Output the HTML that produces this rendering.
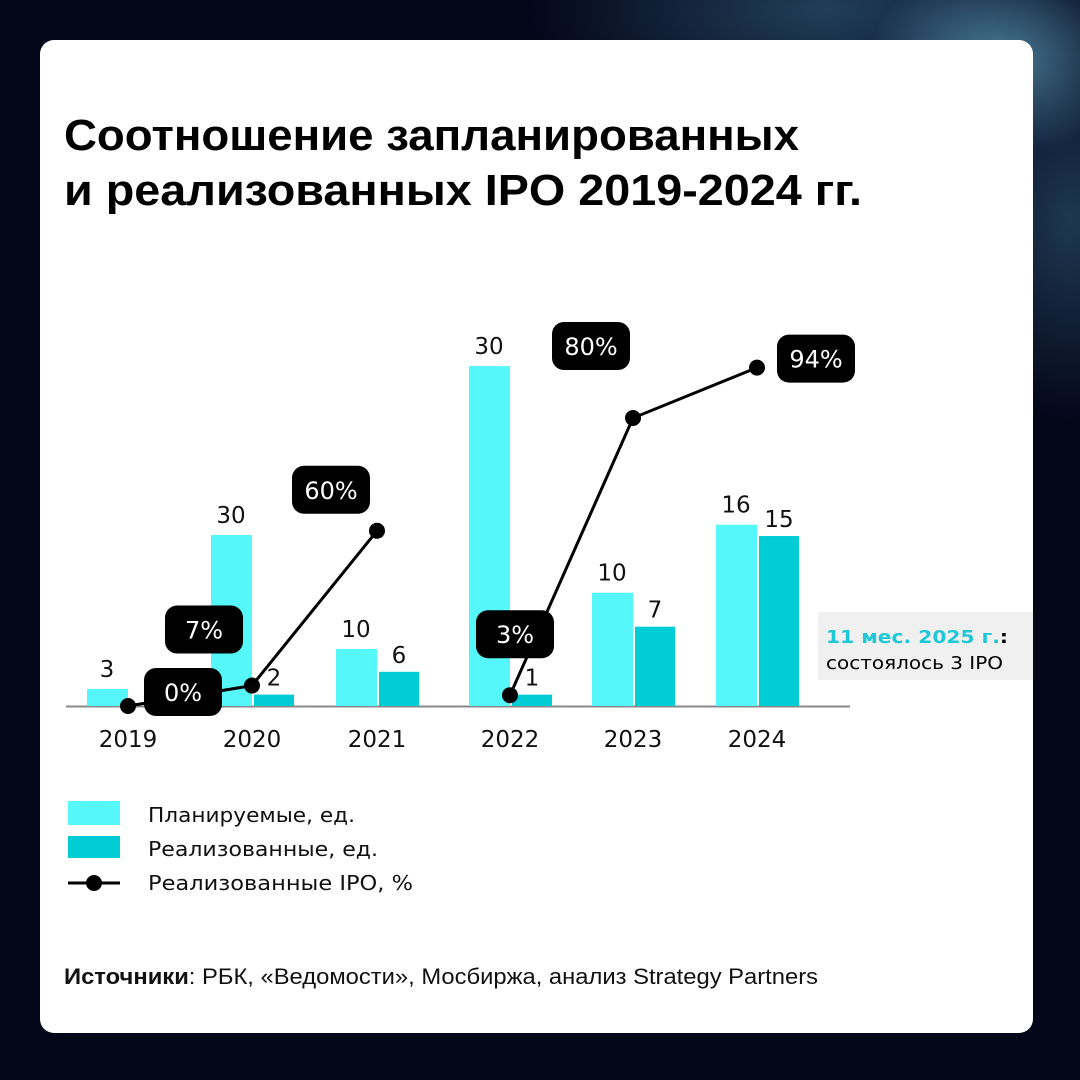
<!DOCTYPE html>
<html><head><meta charset="utf-8">
<style>
html,body{margin:0;padding:0;width:1080px;height:1080px;overflow:hidden;background:#04071a;}
#bg{position:absolute;left:0;top:0;width:1080px;height:1080px;
background:radial-gradient(ellipse 220px 160px at 1000px 60px,rgba(120,200,230,0.55),rgba(20,40,80,0.2) 60%,rgba(0,0,0,0) 100%),
radial-gradient(ellipse 300px 120px at 830px 10px,rgba(90,170,210,0.35),rgba(0,0,0,0) 100%),
radial-gradient(ellipse 120px 200px at 1070px 220px,rgba(90,170,210,0.3),rgba(0,0,0,0) 100%),#04071a;}
#card{position:absolute;left:40px;top:40px;width:993px;height:993px;background:#fff;border-radius:14px;}
svg{position:absolute;left:0;top:0;}
</style></head>
<body>
<div id="bg"></div>
<div id="card"></div>
<svg id="chart" width="1080" height="1080">
<text x="64" y="150" font-family="Liberation Sans, sans-serif" font-weight="bold" font-size="44" textLength="735" lengthAdjust="spacingAndGlyphs" fill="#000">Соотношение запланированных</text>
<text x="64" y="205" font-family="Liberation Sans, sans-serif" font-weight="bold" font-size="44" textLength="798" lengthAdjust="spacingAndGlyphs" fill="#000">и реализованных IPO 2019-2024 гг.</text>
<line x1="66" y1="706.5" x2="850" y2="706.5" stroke="#888" stroke-width="2"/>
<g id="bars"></g><g id="line"></g><g id="bubbles"></g>
<rect x="818" y="612" width="215" height="68" fill="#f0f0f0"/>
<text x="826" y="643" font-family="DejaVu Sans, sans-serif" font-weight="bold" font-size="18" textLength="182" lengthAdjust="spacingAndGlyphs" fill="#1ec8d6">11 мес. 2025 г.<tspan fill="#000">:</tspan></text>
<text x="826" y="669" font-family="DejaVu Sans, sans-serif" font-size="18" textLength="177" lengthAdjust="spacingAndGlyphs" fill="#000">состоялось 3 IPO</text>
<rect x="68" y="801" width="52" height="24" fill="#55f7fb"/>
<text x="148" y="822" font-family="DejaVu Sans, sans-serif" font-size="20" textLength="207" lengthAdjust="spacingAndGlyphs" fill="#111">Планируемые, ед.</text>
<rect x="68" y="836" width="52" height="22" fill="#00ccd6"/>
<text x="148" y="856" font-family="DejaVu Sans, sans-serif" font-size="20" textLength="230" lengthAdjust="spacingAndGlyphs" fill="#111">Реализованные, ед.</text>
<line x1="68" y1="883" x2="120" y2="883" stroke="#000" stroke-width="3"/>
<circle cx="94" cy="883" r="8" fill="#000"/>
<text x="148" y="890" font-family="DejaVu Sans, sans-serif" font-size="20" textLength="265" lengthAdjust="spacingAndGlyphs" fill="#111">Реализованные IPO, %</text>
<text x="64" y="984" font-family="Liberation Sans, sans-serif" font-size="22" textLength="754" lengthAdjust="spacingAndGlyphs" fill="#111"><tspan font-weight="bold">Источники</tspan>: РБК, «Ведомости», Мосбиржа, анализ Strategy Partners</text>
</svg>
<script>
const categories = ["2019","2020","2021","2022","2023","2024"];
const planned = [3,30,10,30,10,16];
const realized = [0,2,6,1,7,15];
const percent = [0,7,60,3,80,94];
const percentLabels = ["0%","7%","60%","3%","80%","94%"];
const scaleGroup = [0,0,0,1,1,1];

const NS="http://www.w3.org/2000/svg";
const baseY=706;
const barPx=[5.7,11.33];
const pctPx=[2.92,3.6];
const centers=[128,252,377,510,633,757];
function xC(i){return centers[i];}
function yBar(v,i){return baseY - v*barPx[scaleGroup[i]];}
function yPct(v,i){return baseY - v*pctPx[scaleGroup[i]];}
const bubbleOff=[[55,-14],[-48,-56],[-46,-41],[5,-61],[-42,-72],[59,-9]];
function mk(tag,attrs){const e=document.createElementNS(NS,tag);for(const k in attrs)e.setAttribute(k,attrs[k]);return e;}
const gb=document.getElementById('bars'),gl=document.getElementById('line'),gbb=document.getElementById('bubbles');
categories.forEach((c,i)=>{
  const cx=xC(i);
  const yp=yBar(planned[i],i);
  let r=mk('rect',{x:cx-41,y:yp,width:41,height:baseY-yp,fill:'#55f7fb'});
  
  
  gb.appendChild(r);
  let t=mk('text',{x:cx-21,y:yp-12,'text-anchor':'middle','font-family':'DejaVu Sans, sans-serif','font-size':'23',fill:'#111'});
  t.textContent=planned[i];
  
  
  gb.appendChild(t);
  if(realized[i]>0){
    const yr=yBar(realized[i],i);
    let r2=mk('rect',{x:cx+2,y:yr,width:40,height:baseY-yr,fill:'#00ccd6'});
    
    
    gb.appendChild(r2);
    let t2=mk('text',{x:cx+22,y:yr-9,'text-anchor':'middle','font-family':'DejaVu Sans, sans-serif','font-size':'23',fill:'#111'});
    t2.textContent=realized[i];
    
    
    gb.appendChild(t2);
  }
  let yl=mk('text',{x:cx,y:747,'text-anchor':'middle','font-family':'DejaVu Sans, sans-serif','font-size':'23',fill:'#111'});
  yl.textContent=c;
  
  
  gb.appendChild(yl);
});
[[0,1,2],[3,4,5]].forEach((seg,si)=>{
  const pts=seg.map(i=>xC(i)+','+yPct(percent[i],i)).join(' ');
  let pl=mk('polyline',{points:pts,fill:'none',stroke:'#000','stroke-width':3});
  
  
  gl.appendChild(pl);
});
categories.forEach((c,i)=>{
  const px=xC(i),py=yPct(percent[i],i);
  let d=mk('circle',{cx:px,cy:py,r:8,fill:'#000'});
  
  
  gl.appendChild(d);
  const bx=px+bubbleOff[i][0],by=py+bubbleOff[i][1];
  let b=mk('rect',{x:bx-39,y:by-24,width:78,height:48,rx:12,fill:'#000'});
  
  
  gbb.appendChild(b);
  let bt=mk('text',{x:bx,y:by+9,'text-anchor':'middle','font-family':'DejaVu Sans, sans-serif','font-size':'24',fill:'#fff'});
  bt.textContent=percentLabels[i];
  
  
  gbb.appendChild(bt);
});
</script>
</body></html>
